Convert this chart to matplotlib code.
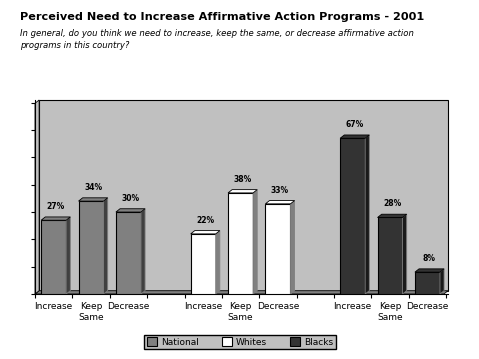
import matplotlib.pyplot as plt
from matplotlib.patches import Polygon, Rectangle

# data
groups = ["National", "Whites", "Blacks"]
categories = ["Increase", "Keep\nSame", "Decrease"]
national = [27, 34, 30]
whites = [22, 37, 33]
blacks = [57, 28, 8]
value_labels = [["27%", "34%", "30%"], ["22%", "38%", "33%"], ["67%", "28%", "8%"]]

front_colors = ["#808080", "#ffffff", "#333333"]
side_colors = ["#404040", "#808080", "#1a1a1a"]

W, H = 479, 359
fig = plt.figure(figsize=(W / 100, H / 100), dpi=100)
ax = fig.add_axes([35 / W, (H - 294) / H, (448 - 35) / W, (294 - 100) / H])

xmin, xmax = -0.5, 10.55
ymax = 71
ax.set_xlim(xmin, xmax)
ax.set_ylim(0, ymax)

dx = 0.11   # 3d depth in x
dy = 1.2    # 3d depth in y

# back wall and floor
ax.add_patch(Rectangle((xmin + dx, dy), xmax - xmin - dx, ymax - dy, facecolor="#c0c0c0",
                       edgecolor="black", lw=0.8, zorder=0, clip_on=False))
ax.add_patch(Polygon([(xmin, 0), (xmax - dx, 0), (xmax, dy), (xmin + dx, dy)],
                     facecolor="#808080", edgecolor="black", lw=0.6, zorder=1, clip_on=False))
ax.add_patch(Polygon([(xmin, 0), (xmin + dx, dy), (xmin + dx, ymax), (xmin, ymax - dy)],
                     facecolor="#c0c0c0", edgecolor="black", lw=0.6, zorder=1, clip_on=False))

bw = 0.67
for g, vals in enumerate([national, whites, blacks]):
    for j, v in enumerate(vals):
        x = g * 4 + j
        x0 = x - bw / 2
        x1 = x + bw / 2
        ax.add_patch(Rectangle((x0, 0), bw, v, facecolor=front_colors[g],
                               edgecolor="black", lw=0.8, zorder=3))
        ax.add_patch(Polygon([(x1, 0), (x1 + dx, dy), (x1 + dx, v + dy), (x1, v)],
                             facecolor=side_colors[g], edgecolor="#808080", lw=0.6, zorder=3))
        ax.add_patch(Polygon([(x0, v), (x0 + dx, v + dy), (x1 + dx, v + dy), (x1, v)],
                             facecolor=front_colors[g], edgecolor="black", lw=0.6, zorder=3))
        ax.text(x + dx / 2, v + dy + 2.2, value_labels[g][j], ha="center", va="bottom",
                fontsize=5.5, fontweight="bold", zorder=4)

# axes
for s in ["top", "right"]:
    ax.spines[s].set_visible(False)
ax.spines["left"].set_linewidth(0.8)
ax.spines["bottom"].set_linewidth(0.8)
ax.set_yticks(range(0, 71, 10))
ax.set_yticklabels([])
ax.set_xticks([i - 0.5 for i in range(12)])
ax.set_xticklabels([])
ax.tick_params(length=3, width=0.8, direction="out")

for g in range(3):
    for j, c in enumerate(categories):
        ax.text(g * 4 + j, -3, c, ha="center", va="top", fontsize=6.5, linespacing=1.3)

fig.text(20 / W, 1 - 17 / H, "Perceived Need to Increase Affirmative Action Programs - 2001",
         fontsize=8.1, fontweight="bold", va="center")
fig.text(20 / W, 1 - 33 / H, "In general, do you think we need to increase, keep the same, or decrease affirmative action",
         fontsize=6.1, style="italic", va="center")
fig.text(20 / W, 1 - 45 / H, "programs in this country?",
         fontsize=6.1, style="italic", va="center")

handles = [Rectangle((0, 0), 1, 1, facecolor=front_colors[i], edgecolor="black", lw=0.8)
           for i in range(3)]
leg = fig.legend(handles, groups, loc="center", bbox_to_anchor=(240 / W, 1 - 342 / H),
                 ncol=3, fontsize=6.5, frameon=True, fancybox=False, handlelength=1.1,
                 handleheight=1.1, columnspacing=2.5, borderpad=0.3, handletextpad=0.5)
leg.get_frame().set_facecolor("#c0c0c0")
leg.get_frame().set_edgecolor("black")
leg.get_frame().set_alpha(1)

fig.savefig("out.png", dpi=100)
